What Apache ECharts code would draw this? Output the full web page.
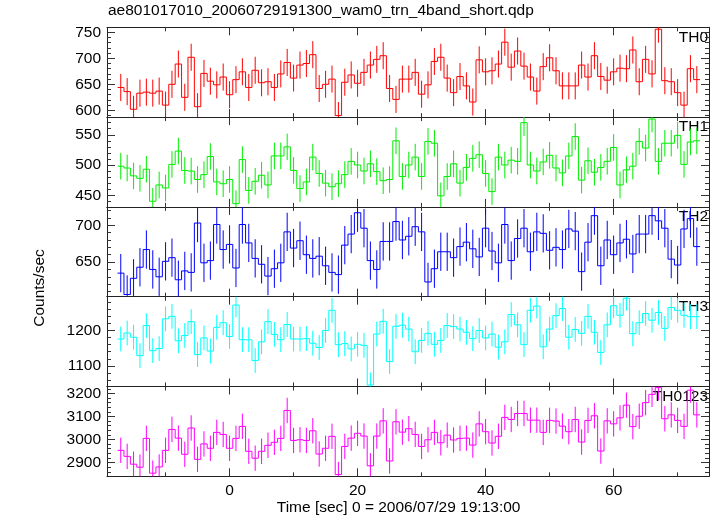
<!DOCTYPE html>
<html><head><meta charset="utf-8">
<script src="https://cdn.jsdelivr.net/npm/echarts@6/dist/echarts.min.js"></script>
<style>html,body{margin:0;padding:0;background:#fff}#c{width:717px;height:516px}</style>
</head><body><div id="c"></div>
<script>
// ---- data ----
const times = [-17,-16,-15,-14,-13,-12,-11,-10,-9,-8,-7,-6,-5,-4,-3,-2,-1,0,1,2,3,4,5,6,7,8,9,10,11,12,13,14,15,16,17,18,19,20,21,22,23,24,25,26,27,28,29,30,31,32,33,34,35,36,37,38,39,40,41,42,43,44,45,46,47,48,49,50,51,52,53,54,55,56,57,58,59,60,61,62,63,64,65,66,67,68,69,70,71,72,73];
const th0 = [644,636,602,633,635,633,637,610,650,689,625,702,607,671,656,649,664,630,659,674,644,677,653,655,644,670,692,662,687,690,707,642,650,660,590,654,668,652,673,687,698,705,642,621,660,660,
  673,631,649,694,702,662,634,665,647,616,697,674,676,689,731,683,714,685,664,637,684,701,676,647,647,647,687,664,705,665,658,674,681,680,716,655,698,670,756,657,655,634,610,680,659];
const th1 = [498,495,482,478,493,440,467,462,501,523,491,490,476,484,514,472,469,476,436,509,458,473,483,467,515,515,530,491,461,472,513,486,470,464,469,484,506,500,490,502,489,474,476,540,481,500,
  513,481,539,536,449,481,502,470,496,511,517,486,456,513,500,508,506,570,500,490,505,516,495,487,515,547,475,507,488,496,506,529,467,492,498,539,528,576,506,536,536,549,501,538,540];
const th2 = [635,606,628,643,667,640,630,651,656,626,638,636,703,649,652,701,667,674,642,701,676,655,647,631,641,649,691,669,679,660,655,658,645,636,633,673,688,717,696,652,640,678,678,705,680,685,
  698,691,623,641,664,664,656,671,677,668,657,696,665,649,701,652,682,696,664,691,689,666,670,667,695,692,637,677,713,645,680,660,676,681,661,688,688,713,706,696,654,646,695,709,671];
const th3 = [1176,1193,1181,1129,1214,1143,1149,1233,1240,1171,1186,1225,1132,1179,1142,1209,1222,1183,1272,1174,1174,1115,1168,1225,1189,1174,1217,1176,1176,1177,1164,1152,1200,1257,1160,1163,1148,1161,1158,1046,1190,1226,1112,1212,1215,1204,
  1140,1172,1192,1161,1172,1214,1211,1204,1195,1177,1200,1179,1190,1153,1168,1245,1216,1160,1257,1269,1154,1204,1242,1262,1181,1203,1192,1240,1195,1138,1216,1270,1243,1291,1191,1222,1248,1229,1251,1206,1265,1257,1243,1239,1239];
const th0123 = [2953,2927,2893,2880,3005,2854,2881,2953,3044,3006,2936,3050,2914,2981,2962,3031,3022,2962,3005,3057,2949,2919,2949,2975,2988,3005,3126,2996,2999,2996,3038,2937,2962,3014,2848,2970,3006,3027,3015,2886,3015,3081,2907,3077,3032,3047,
  3022,2970,2999,3031,2986,3019,2998,3005,3006,2976,3068,3034,2985,3014,3096,3087,3113,3113,3084,3084,3031,3083,3080,3058,3034,3087,2989,3083,3103,2950,3081,3068,3094,3149,3056,3101,3160,3196,3225,3090,3107,3083,3057,3214,3107];
// estimated error half-lengths
const errTH0 = 26, errTH1 = 22, errTH2 = 26, errTH3 = 35, errTH0123 = 55;
// tick labels
const xMajor = [0,20,40,60];
const xMinor = [-10,10,30,50,70];
const panelNames = ['TH0','TH1','TH2','TH3','TH0123'];
const yMajor = [[600,650,700,750],[450,500,550],[650,700],[1100,1200],[2900,3000,3100,3200]];
const yMinor = [
  [590,610,620,630,640,660,670,680,690,710,720,730,740],
  [440,460,470,480,490,510,520,530,540,560,570],
  [610,620,630,640,660,670,680,690,710,720],
  [1060,1080,1120,1140,1160,1180,1220,1240,1260,1280],
  [2860,2880,2920,2940,2960,2980,3020,3040,3060,3080,3120,3140,3160,3180,3220]
];
const titleText = 'ae801017010_20060729191300_wam0_trn_4band_short.qdp';
const xTitle = 'Time [sec] 0 = 2006/07/29 19:13:00';
const yTitle = 'Counts/sec';

// ---- layout / style ----
const series = [th0, th1, th2, th3, th0123];
const errs = [errTH0, errTH1, errTH2, errTH3, errTH0123];
const colors = ['#ff0000','#00ee00','#0000ff','#00ffff','#ff00ff'];
const yRanges = [[587,759.6],[430.7,579.2],[603,724.9],[1041.8,1295.5],[2840.5,3230]];
const xRange = [-19.15, 74.9];
const FONT = 'Liberation Sans, Arial, Helvetica, sans-serif';
const gLeft = 107, gWidth = 602, gTop = 27.3, gH = 89.8;
const binHalf = (times[1] - times[0]) / 2;

const chart = echarts.init(document.getElementById('c'), null, {renderer:'canvas'});
const grids = [], xAxes = [], yAxes = [], ser = [], graphics = [];
const axLine = {show:true, onZero:false, lineStyle:{color:'#222', width:1}};
function tickAx(base, vals, len, showLine) {
  return Object.assign({}, base, {
    axisLine: showLine ? axLine : {show:false, onZero:false},
    axisTick: {show:true, inside:true, length:len, customValues:vals, lineStyle:{color:'#333', width:1}},
    splitLine:{show:false}
  });
}
const plain = v => String(v);
for (let i = 0; i < 5; i++) {
  grids.push({left:gLeft, width:gWidth, top:gTop + i*gH, height:gH, containLabel:false});
  const xb = {gridIndex:i, type:'value', min:xRange[0], max:xRange[1]};
  const xi = xAxes.length;
  xAxes.push(Object.assign(tickAx(Object.assign({position:'bottom'}, xb), xMajor, 8, true), {
    axisLabel:{show: i===4, customValues:xMajor, formatter:plain, color:'#000', fontFamily:FONT, fontSize:15.5, margin:6}
  }));
  xAxes.push(Object.assign(tickAx(Object.assign({position:'bottom'}, xb), xMinor, 4, false), {axisLabel:{show:false}}));
  xAxes.push(Object.assign(tickAx(Object.assign({position:'top'}, xb), xMajor, 8, true), {axisLabel:{show:false}}));
  xAxes.push(Object.assign(tickAx(Object.assign({position:'top'}, xb), xMinor, 4, false), {axisLabel:{show:false}}));
  const yb = {gridIndex:i, type:'value', min:yRanges[i][0], max:yRanges[i][1]};
  const yi = yAxes.length;
  yAxes.push(Object.assign(tickAx(Object.assign({position:'left'}, yb), yMajor[i], 8, true), {
    axisLabel:{show:true, customValues:yMajor[i], formatter:plain, color:'#000', fontFamily:FONT, fontSize:15.5, margin:6}
  }));
  yAxes.push(Object.assign(tickAx(Object.assign({position:'left'}, yb), yMinor[i], 4, false), {axisLabel:{show:false}}));
  yAxes.push(Object.assign(tickAx(Object.assign({position:'right'}, yb), yMajor[i], 8, true), {axisLabel:{show:false}}));
  yAxes.push(Object.assign(tickAx(Object.assign({position:'right'}, yb), yMinor[i], 4, false), {axisLabel:{show:false}}));

  const vals = series[i], err = errs[i], col = colors[i];
  ser.push({
    type:'custom', xAxisIndex:xi, yAxisIndex:yi, clip:true, silent:true,
    data: times.map((t, j) => [t, vals[j], err]),
    renderItem: (params, api) => {
      const j = params.dataIndex;
      const t = api.value(0), v = api.value(1), e = api.value(2);
      const a = api.coord([t - binHalf, v]);
      const b = api.coord([t + binHalf, v]);
      const top = api.coord([t, v + e]);
      const bot = api.coord([t, v - e]);
      const st = {stroke:col, lineWidth:1, fill:null};
      const ch = [
        {type:'line', shape:{x1:a[0], y1:a[1], x2:b[0], y2:b[1]}, style:st},
        {type:'line', shape:{x1:top[0], y1:top[1], x2:bot[0], y2:bot[1]}, style:st}
      ];
      if (j > 0) {
        const p = api.coord([t - binHalf, vals[j-1]]);
        ch.push({type:'line', shape:{x1:p[0], y1:p[1], x2:a[0], y2:a[1]}, style:st});
      }
      return {type:'group', children:ch};
    }
  });
  graphics.push({type:'text', right:717-708, top:gTop + i*gH + 2,
    style:{text:panelNames[i], fill:'#000', font:'15.5px ' + FONT, textAlign:'right'}});
}
graphics.push({type:'text', left:108, top:3, style:{text:titleText, fill:'#000', font:'15.5px ' + FONT}});
graphics.push({type:'text', x:398.6, y:508, style:{text:xTitle, fill:'#000', font:'15.5px ' + FONT, textAlign:'center', textVerticalAlign:'middle'}});
graphics.push({type:'text', x:40, y:288, rotation:Math.PI/2, style:{text:yTitle, fill:'#000', font:'15.5px ' + FONT, textAlign:'center', textVerticalAlign:'middle'}});

chart.setOption({
  animation:false,
  backgroundColor:'#fff',
  grid:grids, xAxis:xAxes, yAxis:yAxes, series:ser, graphic:graphics
});
</script></body></html>
